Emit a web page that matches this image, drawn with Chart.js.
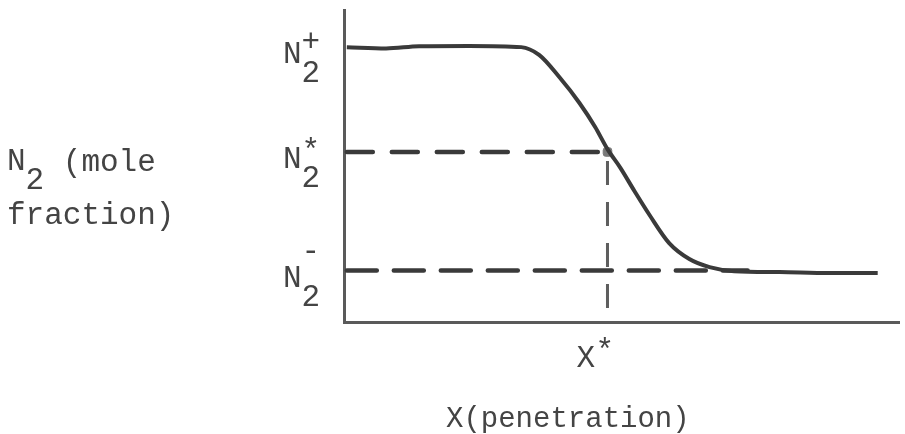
<!DOCTYPE html>
<html>
<head>
<meta charset="utf-8">
<style>
  html, body { margin: 0; padding: 0; background: #fff; }
  #wrap { width: 905px; height: 434px; }
</style>
<script src="https://cdn.jsdelivr.net/npm/chart.js@4.4.1/dist/chart.umd.min.js"></script>
</head>
<body>
<div id="wrap"><canvas id="profileChart" width="905" height="434"></canvas></div>
<script>
// N2 profile (x: penetration, arbitrary units; y: mole fraction, arbitrary units)
const curveX = [0.05, 0.75, 1.34, 2.23, 3.16, 3.48, 3.84, 4.20, 4.48, 4.70, 4.93, 5.18, 5.45, 5.80, 6.16, 6.52, 6.96, 7.77, 8.66, 9.52];
const curveY = [0.881, 0.877, 0.884, 0.885, 0.881, 0.856, 0.785, 0.702, 0.625, 0.554, 0.494, 0.420, 0.343, 0.253, 0.202, 0.176, 0.163, 0.160, 0.157, 0.157];

// reference levels on the y axis and the marked penetration
const levelSymbols = ['+', '*', '-'];
const levelValues = [0.881, 0.545, 0.165];
const xStar = 4.70;
const dashStartX = 0.05;
const lowDashEndX = 7.2;

// drawing style
const FONT = '31px "Liberation Mono", "DejaVu Sans Mono", monospace';
const TEXT_COLOR = '#444';
const INK = '#3a3a3a';
const AXIS_COLOR = '#5a5a5a';

// how far each superscript sits above the baseline of its "N"
const supLift = { '+': 23, '*': 25, '-': 35 };

const sketchLabels = {
    id: 'sketchLabels',
    afterDraw(chart) {
        const ctx = chart.ctx;
        const area = chart.chartArea;
        const yScale = chart.scales.y;
        const xScale = chart.scales.x;

        ctx.save();
        ctx.font = FONT;
        ctx.fillStyle = TEXT_COLOR;
        ctx.textAlign = 'left';
        ctx.textBaseline = 'alphabetic';
        const pitch = ctx.measureText('N').width;

        // put a glyph's ink centre on cy
        const drawCentered = (s, x, cy) => {
            const m = ctx.measureText(s);
            ctx.fillText(s, x, cy + (m.actualBoundingBoxAscent - m.actualBoundingBoxDescent) / 2);
        };

        // y tick labels: N with subscript 2 and superscript sign
        levelValues.forEach((v, i) => {
            const base = yScale.getPixelForValue(v) + 16;
            const x0 = area.left - 61;
            ctx.fillText('N', x0, base);
            ctx.fillText('2', x0 + pitch, base + 19);
            drawCentered(levelSymbols[i], x0 + pitch, base - supLift[levelSymbols[i]]);
        });

        // x tick label X*
        const xp = xScale.getPixelForValue(xStar);
        const xb = area.bottom + 45;
        ctx.fillText('X', xp - 31, xb);
        drawCentered('*', xp - 12, xb - 24);

        // axis titles
        ctx.fillText('N', 7, 170);
        ctx.fillText('2', 7 + pitch, 189);
        ctx.fillText('(mole', 7 + 3 * pitch, 171);
        ctx.fillText('fraction)', 7, 224);
        ctx.font = FONT.replace('31px', '29px');
        ctx.fillText('X(penetration)', area.left + 102, 427);

        ctx.restore();
    }
};

function initializeProfileChart() {
    const canvas = document.getElementById('profileChart');
    if (!canvas) return;

    const lowY = levelValues[2];
    const starY = levelValues[1];

    return new Chart(canvas.getContext('2d'), {
        type: 'line',
        data: {
            datasets: [
                {
                    data: curveX.map((x, i) => ({ x: x, y: curveY[i] })),
                    borderColor: INK,
                    borderWidth: 4,
                    cubicInterpolationMode: 'monotone',
                    pointRadius: 0
                },
                {
                    data: [{ x: dashStartX, y: starY }, { x: xStar, y: starY }],
                    borderColor: INK,
                    borderWidth: 4.5,
                    borderDash: [26, 19],
                    borderCapStyle: 'round',
                    pointRadius: 0
                },
                {
                    data: [{ x: dashStartX, y: lowY }, { x: lowDashEndX, y: lowY }],
                    borderColor: INK,
                    borderWidth: 4.5,
                    borderDash: [30, 17],
                    borderCapStyle: 'round',
                    pointRadius: 0
                },
                {
                    data: [{ x: xStar, y: starY }, { x: xStar, y: 0 }],
                    borderColor: '#5e5e5e',
                    borderWidth: 3,
                    borderDash: [24, 17],
                    borderDashOffset: -9,
                    pointRadius: 0
                },
                {
                    data: [{ x: xStar, y: starY }],
                    showLine: false,
                    pointRadius: 5,
                    pointStyle: 'rectRounded',
                    backgroundColor: '#7a7a7a',
                    borderColor: '#7a7a7a'
                }
            ]
        },
        options: {
            responsive: false,
            devicePixelRatio: 1,
            animation: false,
            layout: {
                padding: { left: 344, right: 0, top: 10, bottom: 112 }
            },
            plugins: {
                legend: { display: false },
                tooltip: { enabled: false }
            },
            scales: {
                x: {
                    type: 'linear',
                    min: 0,
                    max: 9.9,
                    grid: { display: false, drawTicks: false },
                    ticks: { display: false },
                    border: { display: true, color: AXIS_COLOR, width: 3 }
                },
                y: {
                    type: 'linear',
                    min: 0,
                    max: 1,
                    grid: { display: false, drawTicks: false },
                    ticks: { display: false },
                    border: { display: true, color: AXIS_COLOR, width: 3 }
                }
            }
        },
        plugins: [sketchLabels]
    });
}

initializeProfileChart();
</script>
</body>
</html>
